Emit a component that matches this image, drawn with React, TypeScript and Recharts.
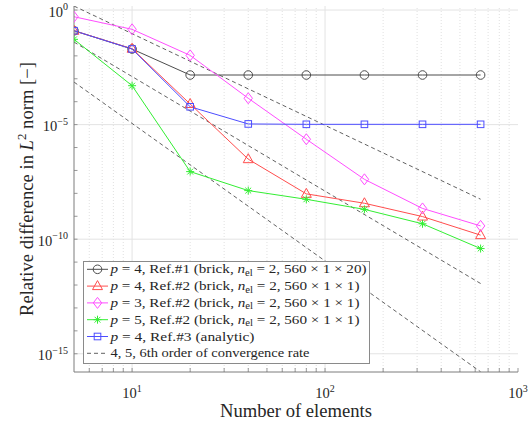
import React from 'react';
import { LineChart, Line, XAxis, YAxis, ReferenceLine, Label } from 'recharts';

// ---------- data ----------
const elements = [5, 10, 20, 40, 80, 160, 320, 640];
const p4Ref1 = [0.125, 0.0199, 1.46e-3, 1.46e-3, 1.46e-3, 1.46e-3, 1.46e-3, 1.46e-3];
const p4Ref2 = [0.125, 0.0205, 7.9e-5, 3.1e-7, 9.5e-9, 3.7e-9, 9.7e-10, 1.5e-10];
const p3Ref2 = [0.51, 0.144, 1.05e-2, 1.41e-4, 2.3e-6, 4.1e-8, 2.2e-9, 3.8e-10];
const p5Ref2 = [0.0526, 5.0e-4, 8.9e-8, 1.32e-8, 5.5e-9, 2.0e-9, 4.7e-10, 3.9e-11];
const p4Ref3 = [0.125, 0.0199, 6.0e-5, 1.07e-5, 1.03e-5, 1.03e-5, 1.03e-5, 1.03e-5];

const rateX = [5, 640];
const rate4 = [1.49, 5.55e-9];
const rate5 = [0.04, 1.164e-12];
const rate6 = [7.2e-4, 1.637e-16];

const xTicks = [6, 7, 8, 9, 10, 20, 30, 40, 50, 60, 70, 80, 90, 100, 200, 300, 400, 500, 600, 700, 800, 900, 1000];
const yTicks = [1e-15, 1e-14, 1e-13, 1e-12, 1e-11, 1e-10, 1e-9, 1e-8, 1e-7, 1e-6, 1e-5, 1e-4, 1e-3, 1e-2, 1e-1, 1];
const xDomain = [5, 1000];
const yDomain = [1.6e-16, 1.5];
const xMajorGrid = [10, 100];
const xMinorGrid = [6, 7, 8, 9, 20, 30, 40, 50, 60, 70, 80, 90, 200, 300, 400, 500, 600, 700, 800, 900];
const yMajorGrid = [1, 1e-5, 1e-10, 1e-15];

const legendTexts = [
  { p: '4', ref: 'Ref.#1', kind: 'brick', dims: '2, 560 × 1 × 20' },
  { p: '4', ref: 'Ref.#2', kind: 'brick', dims: '2, 560 × 1 × 1' },
  { p: '3', ref: 'Ref.#2', kind: 'brick', dims: '2, 560 × 1 × 1' },
  { p: '5', ref: 'Ref.#2', kind: 'brick', dims: '2, 560 × 1 × 1' },
  { p: '4', ref: 'Ref.#3', kind: 'analytic', dims: '' },
];
const rateLegend = '4, 5, 6th order of convergence rate';

// ---------- styles ----------
const FONT = '"Liberation Serif", "Times New Roman", serif';
const AXIS = '#7d7d7d';
const TEXT = '#262626';
const GRID = '#e3e3e3';
const MINOR = '#d2d2d2';

const seriesStyle = [
  { key: 'p4Ref1', color: '#4d4d4d', shape: 'circle', len: 256 },
  { key: 'p4Ref2', color: '#ff4d4d', shape: 'triangle', len: 249 },
  { key: 'p3Ref2', color: '#ff4dff', shape: 'diamond', len: 249 },
  { key: 'p5Ref2', color: '#33ee33', shape: 'star', len: 249 },
  { key: 'p4Ref3', color: '#4d4dff', shape: 'square', len: 144 },
];
const RATE_COLOR = '#3a3a3a';

// ---------- table ----------
const seriesValues: Record<string, number[]> = { p4Ref1, p4Ref2, p3Ref2, p5Ref2, p4Ref3 };
const rows: any[] = elements.map((x, i) => {
  const r: any = { x };
  Object.keys(seriesValues).forEach((k) => (r[k] = seriesValues[k][i]));
  return r;
});
rateX.forEach((x, j) => {
  const r = rows.find((row) => row.x === x);
  r.rate4 = rate4[j];
  r.rate5 = rate5[j];
  r.rate6 = rate6[j];
});

// ---------- markers ----------
function Marker({ shape, cx, cy, color }: any) {
  const common = { fill: 'none', stroke: color, strokeWidth: 1 };
  switch (shape) {
    case 'circle':
      return <circle cx={cx} cy={cy} r={4.3} {...common} />;
    case 'triangle':
      return <polygon points={`${cx},${cy - 5.5} ${cx - 5},${cy + 3.5} ${cx + 5},${cy + 3.5}`} {...common} />;
    case 'diamond':
      return <polygon points={`${cx},${cy - 5.5} ${cx + 4.2},${cy} ${cx},${cy + 5.5} ${cx - 4.2},${cy}`} {...common} />;
    case 'square':
      return <rect x={cx - 3.3} y={cy - 3.3} width={6.6} height={6.6} {...common} />;
    case 'star': {
      const a = 4, d = 2.9;
      return (
        <g stroke={color} strokeWidth={1}>
          <line x1={cx - a} y1={cy} x2={cx + a} y2={cy} />
          <line x1={cx} y1={cy - a} x2={cx} y2={cy + a} />
          <line x1={cx - d} y1={cy - d} x2={cx + d} y2={cy + d} />
          <line x1={cx - d} y1={cy + d} x2={cx + d} y2={cy - d} />
        </g>
      );
    }
    default:
      return null;
  }
}

const isMajor = (v: number) => {
  const e = Math.log10(v);
  return Math.abs(e - Math.round(e)) < 1e-9 && Math.round(e) % 5 === 0 ? Math.round(e) : null;
};
const isDecade = (v: number) => {
  const e = Math.log10(v);
  return Math.abs(e - Math.round(e)) < 1e-9 ? Math.round(e) : null;
};
const fmtExp = (e: number) => (e < 0 ? '\u2212' + Math.abs(e) : String(e));

function XTickBottom(props: any) {
  const { x, y, payload } = props;
  const e = isDecade(payload.value);
  return (
    <g>
      <line x1={x} x2={x} y1={y} y2={y - 4} stroke={AXIS} strokeWidth={0.8} />
      {e !== null && (
        <text x={x} y={y + 26} textAnchor="middle" fontFamily={FONT} fontSize={14.5} fill={TEXT}>
          <tspan>10</tspan>
          <tspan dy={-6.5} fontSize={10}>{fmtExp(e)}</tspan>
        </text>
      )}
    </g>
  );
}
function XTickTop(props: any) {
  const { x, y } = props;
  return <line x1={x} x2={x} y1={y} y2={y + 4} stroke={AXIS} strokeWidth={0.8} />;
}
function YTickLeft(props: any) {
  const { x, y, payload } = props;
  const e = isMajor(payload.value);
  return (
    <g>
      <line x1={x} x2={x + 3.5} y1={y} y2={y} stroke={AXIS} strokeWidth={0.8} />
      {e !== null && (
        <text x={x - 6} y={y + 6.5} textAnchor="end" fontFamily={FONT} fontSize={14.5} fill={TEXT}>
          <tspan>10</tspan>
          <tspan dy={-6.5} fontSize={10}>{fmtExp(e)}</tspan>
        </text>
      )}
    </g>
  );
}
function YTickRight(props: any) {
  const { x, y } = props;
  return <line x1={x} x2={x - 3.5} y1={y} y2={y} stroke={AXIS} strokeWidth={0.8} />;
}

function YTitle(props: any) {
  const vb = props.viewBox || { x: 0, y: 6, width: 74, height: 366 };
  const cx = 33;
  const cy = vb.y + vb.height / 2;
  return (
    <text
      x={cx}
      y={cy}
      transform={`rotate(-90, ${cx}, ${cy})`}
      textAnchor="middle"
      fontFamily={FONT}
      fontSize={18}
      fill={TEXT}
      textLength={254}
      lengthAdjust="spacingAndGlyphs"
    >
      <tspan>Relative difference in </tspan>
      <tspan fontStyle="italic">L</tspan>
      <tspan dy={-7} fontSize={12.5}>2</tspan>
      <tspan dy={7}> norm [{'\u2212'}]</tspan>
    </text>
  );
}
function XTitle(props: any) {
  const vb = props.viewBox || { x: 74, y: 372, width: 444, height: 53 };
  return (
    <text
      x={vb.x + vb.width / 2}
      y={416.5}
      textAnchor="middle"
      fontFamily={FONT}
      fontSize={18}
      fill={TEXT}
      textLength={152}
      lengthAdjust="spacingAndGlyphs"
    >
      Number of elements
    </text>
  );
}

function LegendBox() {
  const left = 83.5, top = 261.5, w = 286, h = 102;
  const rowY = (i: number) => 269.3 + i * 16.8;
  return (
    <svg width={532} height={425} style={{ position: 'absolute', left: 0, top: 0, pointerEvents: 'none' }}>
      <rect x={left} y={top} width={w} height={h} fill="#ffffff" stroke="#8a8a8a" strokeWidth={1} />
      {legendTexts.map((t, i) => {
        const s = seriesStyle[i];
        const cy = rowY(i);
        return (
          <g key={s.key}>
            <line x1={87} x2={108} y1={cy} y2={cy} stroke={s.color} strokeWidth={1} />
            <Marker shape={s.shape} cx={97.5} cy={cy} color={s.color} />
            <text
              x={110.5}
              y={cy + 4}
              fontFamily={FONT}
              fontSize={13.5}
              fill={TEXT}
              textLength={s.len}
              lengthAdjust="spacingAndGlyphs"
            >
              <tspan fontStyle="italic">p</tspan>
              <tspan>{` = ${t.p}, ${t.ref} (${t.kind}`}</tspan>
              {t.dims ? (
                <>
                  <tspan>{', '}</tspan>
                  <tspan fontStyle="italic">n</tspan>
                  <tspan dy={2.5} fontSize={9.5}>el</tspan>
                  <tspan dy={-2.5}>{` = ${t.dims})`}</tspan>
                </>
              ) : (
                <tspan>)</tspan>
              )}
            </text>
          </g>
        );
      })}
      <g>
        <line x1={87} x2={108} y1={rowY(5)} y2={rowY(5)} stroke={RATE_COLOR} strokeWidth={0.8} strokeDasharray="4 3" />
        <text
          x={110.5}
          y={rowY(5) + 4}
          fontFamily={FONT}
          fontSize={13.5}
          fill={TEXT}
          textLength={199}
          lengthAdjust="spacingAndGlyphs"
        >
          {rateLegend}
        </text>
      </g>
    </svg>
  );
}

export default function App() {
  return (
    <div style={{ position: 'absolute', left: 0, top: 0, width: 532, height: 425, background: '#fff' }}>
      <LineChart width={532} height={425} data={rows} margin={{ top: 6, right: 14, left: 0, bottom: 0 }}>
        {xMinorGrid.map((v) => (
          <ReferenceLine key={`xm${v}`} x={v} stroke={MINOR} strokeDasharray="1 2" strokeWidth={0.7} />
        ))}
        {xMajorGrid.map((v) => (
          <ReferenceLine key={`xM${v}`} x={v} stroke={GRID} strokeWidth={1} />
        ))}
        {yMajorGrid.map((v) => (
          <ReferenceLine key={`yM${v}`} y={v} stroke={GRID} strokeWidth={1} />
        ))}
        <XAxis
          dataKey="x"
          type="number"
          scale="log"
          domain={xDomain}
          allowDataOverflow
          ticks={xTicks}
          interval={0}
          tickSize={0}
          tickMargin={0}
          tickLine={false}
          tick={(p: any) => <XTickBottom {...p} />}
          axisLine={{ stroke: AXIS }}
          height={53}
        >
          <Label content={(p: any) => <XTitle {...p} />} />
        </XAxis>
        <XAxis
          xAxisId="top"
          orientation="top"
          dataKey="x"
          type="number"
          scale="log"
          domain={xDomain}
          allowDataOverflow
          ticks={xTicks}
          interval={0}
          tickSize={0}
          tickMargin={0}
          tickLine={false}
          tick={(p: any) => <XTickTop {...p} />}
          axisLine={{ stroke: AXIS }}
          height={0}
        />
        <YAxis
          type="number"
          scale="log"
          domain={yDomain}
          allowDataOverflow
          ticks={yTicks}
          interval={0}
          tickSize={0}
          tickMargin={0}
          tickLine={false}
          tick={(p: any) => <YTickLeft {...p} />}
          axisLine={{ stroke: AXIS }}
          width={74}
        >
          <Label content={(p: any) => <YTitle {...p} />} />
        </YAxis>
        <YAxis
          yAxisId="right"
          orientation="right"
          type="number"
          scale="log"
          domain={yDomain}
          allowDataOverflow
          ticks={yTicks}
          interval={0}
          tickSize={0}
          tickMargin={0}
          tickLine={false}
          tick={(p: any) => <YTickRight {...p} />}
          axisLine={{ stroke: AXIS }}
          width={0}
        />
        {['rate4', 'rate5', 'rate6'].map((k) => (
          <Line
            key={k}
            dataKey={k}
            stroke={RATE_COLOR}
            strokeWidth={0.8}
            strokeDasharray="4 3"
            dot={false}
            connectNulls
            isAnimationActive={false}
          />
        ))}
        {seriesStyle.map((s) => (
          <Line
            key={s.key}
            dataKey={s.key}
            stroke={s.color}
            strokeWidth={1}
            isAnimationActive={false}
            dot={(p: any) => <Marker key={`${s.key}-${p.index}`} shape={s.shape} cx={p.cx} cy={p.cy} color={s.color} />}
            activeDot={false}
          />
        ))}
      </LineChart>
      <LegendBox />
    </div>
  );
}
